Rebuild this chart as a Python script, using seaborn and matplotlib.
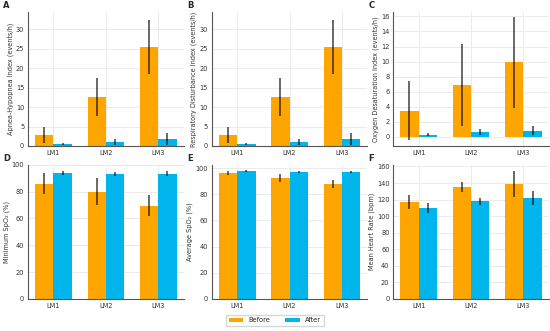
import numpy as np
import pandas as pd
import seaborn as sns
import matplotlib.pyplot as plt

groups = ["LM1", "LM2", "LM3"]
conditions = ["Before", "After"]

ahi_before = [2.8, 12.6, 25.4]
ahi_before_err = [2.0, 5.0, 7.0]
ahi_after = [0.5, 1.0, 1.8]
ahi_after_err = [0.3, 0.7, 1.5]

rdi_before = [2.8, 12.6, 25.4]
rdi_before_err = [2.0, 5.0, 7.0]
rdi_after = [0.5, 1.0, 1.8]
rdi_after_err = [0.3, 0.7, 1.5]

odi_before = [3.5, 6.9, 9.9]
odi_before_err = [3.9, 5.5, 6.0]
odi_after = [0.3, 0.6, 0.8]
odi_after_err = [0.2, 0.4, 0.6]

min_spo2_before = [86, 80, 69.5]
min_spo2_before_err = [8, 10, 8]
min_spo2_after = [94, 93.5, 93.5]
min_spo2_after_err = [1.5, 1.5, 2.0]

avg_spo2_before = [96.5, 92.5, 88.0]
avg_spo2_before_err = [1.5, 3.0, 3.0]
avg_spo2_after = [97.5, 97.0, 97.0]
avg_spo2_after_err = [0.8, 1.0, 0.8]

hr_before = [117, 135, 139]
hr_before_err = [8, 6, 16]
hr_after = [110, 118, 122]
hr_after_err = [6, 4, 8]

panels = [
    ("A", "Apnea-Hypopnea Index (events/h)", ahi_before, ahi_before_err, ahi_after, ahi_after_err, (0, 34.5), [0, 5, 10, 15, 20, 25, 30]),
    ("B", "Respiratory Disturbance Index (events/h)", rdi_before, rdi_before_err, rdi_after, rdi_after_err, (0, 34.5), [0, 5, 10, 15, 20, 25, 30]),
    ("C", "Oxygen Desaturation Index (events/h)", odi_before, odi_before_err, odi_after, odi_after_err, (-1.2, 16.6), [0, 2, 4, 6, 8, 10, 12, 14, 16]),
    ("D", "Minimum SpO\u2082 (%)", min_spo2_before, min_spo2_before_err, min_spo2_after, min_spo2_after_err, (0, 100), [0, 20, 40, 60, 80, 100]),
    ("E", "Average SpO\u2082 (%)", avg_spo2_before, avg_spo2_before_err, avg_spo2_after, avg_spo2_after_err, (0, 102.5), [0, 20, 40, 60, 80, 100]),
    ("F", "Mean Heart Rate (bpm)", hr_before, hr_before_err, hr_after, hr_after_err, (0, 162), [0, 20, 40, 60, 80, 100, 120, 140, 160]),
]

colors = {"Before": "#FFA500", "After": "#00B4EC"}

sns.set_theme(style="whitegrid")
plt.rcParams.update({
    "grid.color": "#e8e8e8",
    "grid.linewidth": 0.6,
    "axes.edgecolor": "#555555",
    "axes.linewidth": 0.8,
})

fig = plt.figure(figsize=(5.5, 3.31), dpi=100)
lefts = [0.051, 0.385, 0.715]
width = 0.283
tops = [(0.559, 0.405), (0.097, 0.405)]

for i, (letter, ylabel, b, be, a, ae, ylim, yticks) in enumerate(panels):
    row, col = divmod(i, 3)
    bottom, height = tops[row]
    ax = fig.add_axes([lefts[col], bottom, width, height])
    df = pd.DataFrame({
        "group": groups * 2,
        "cond": ["Before"] * 3 + ["After"] * 3,
        "value": b + a,
        "err": be + ae,
    })
    sns.barplot(data=df, x="group", y="value", hue="cond", hue_order=conditions,
                palette=colors, errorbar=None, width=0.7, saturation=1,
                linewidth=0, ax=ax, legend=(i == 0))
    # error bars at bar centres
    for cont, cond in zip(ax.containers, conditions):
        sub = df[df["cond"] == cond]
        xs = [p.get_x() + p.get_width() / 2 for p in cont.patches]
        ax.errorbar(xs, sub["value"], yerr=sub["err"], fmt="none",
                    ecolor="black", alpha=0.75, elinewidth=1.1, capsize=0)
    ax.set_ylim(*ylim)
    ax.set_yticks(yticks)
    ax.set_xlabel("")
    ax.set_ylabel(ylabel, fontsize=4.7, color="#333333", labelpad=1.5)
    ax.tick_params(labelsize=4.8, colors="#333333", length=1.5, pad=1.2)
    for s in ["top", "right"]:
        ax.spines[s].set_visible(False)
    ax.grid(True, axis="both")
    ax.set_axisbelow(True)
    ax.text(-0.16, 1.045, letter, transform=ax.transAxes, fontsize=6,
            fontweight="bold", ha="left", va="center")
    if i == 0:
        handles, labels = ax.get_legend_handles_labels()
        ax.get_legend().remove()

fig.legend(handles, labels, loc="lower center", ncol=2, bbox_to_anchor=(0.5, 0.005),
           fontsize=4.8, frameon=True, handlelength=2.2, handleheight=0.5,
           columnspacing=2.2, edgecolor="#cccccc", fancybox=False)

fig.savefig("out.png", dpi=100)
